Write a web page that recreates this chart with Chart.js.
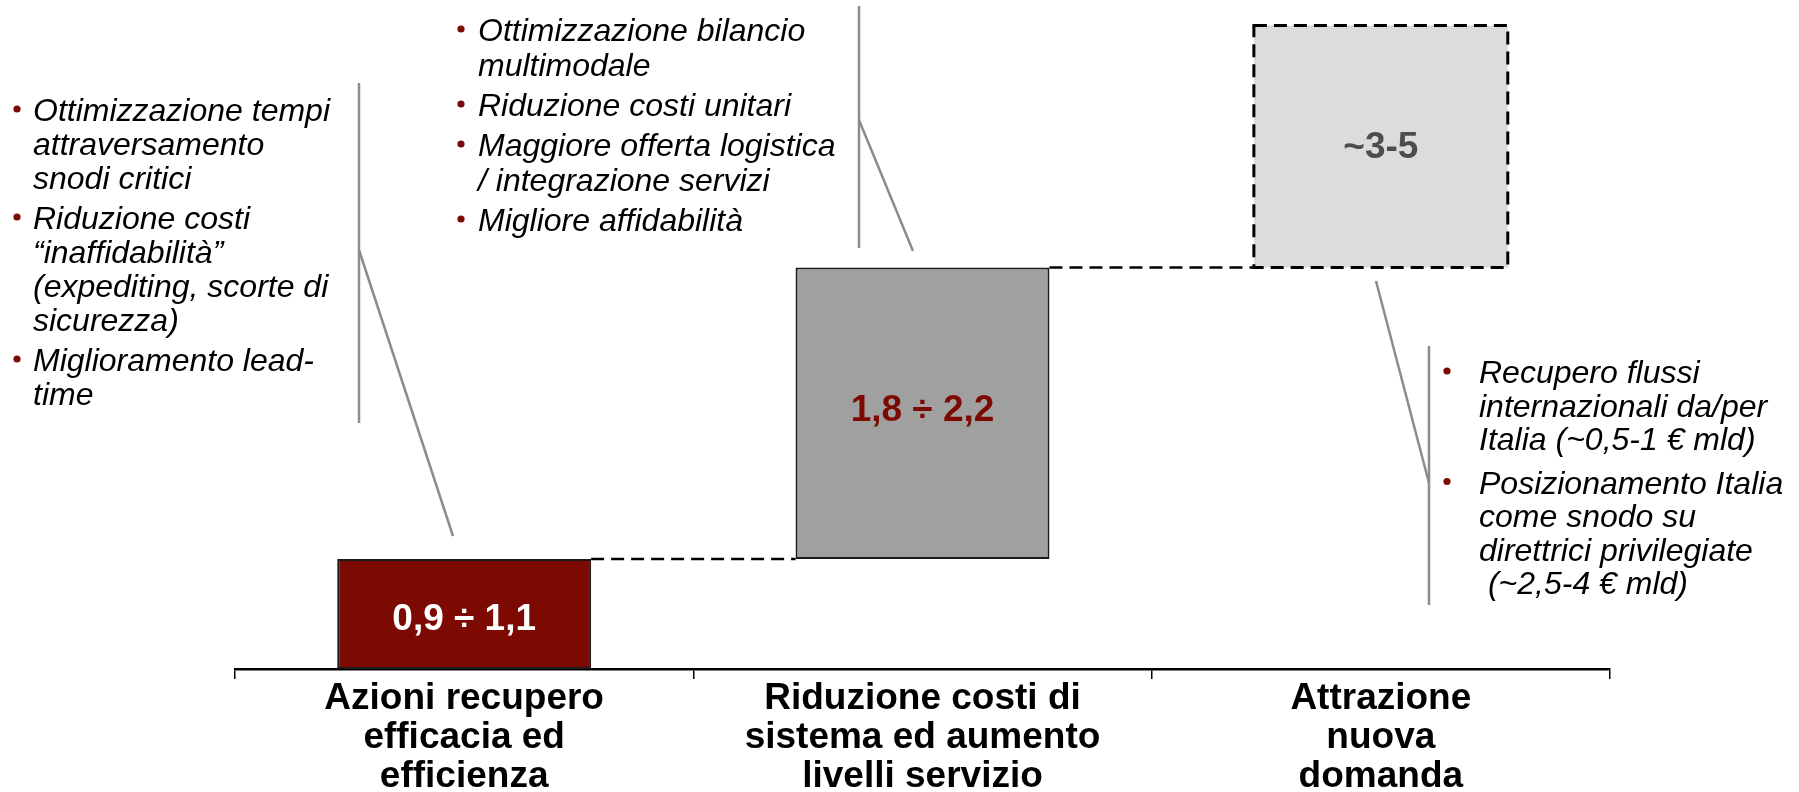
<!DOCTYPE html>
<html>
<head>
<meta charset="utf-8">
<title>Waterfall benefici</title>
<script src="https://cdn.jsdelivr.net/npm/chart.js@4.4.1/dist/chart.umd.min.js"></script>
<style>
  html, body { margin: 0; padding: 0; background: #fff; }
  #wrap { width: 1799px; height: 792px; position: relative; }
</style>
</head>
<body>
<div id="wrap"><canvas id="chart"></canvas></div>
<script>
// categories (multi-line tick labels)
const categories = [
  ['Azioni recupero', 'efficacia ed', 'efficienza'],
  ['Riduzione costi di', 'sistema ed aumento', 'livelli servizio'],
  ['Attrazione', 'nuova', 'domanda']
];
// floating bar ranges, in the picture's own (schematic) units
const rangeStart = [0, 1.0, 3.65];
const rangeEnd = [1.0, 3.65, 5.85];
const rangeLabels = ['0,9 ÷ 1,1', '1,8 ÷ 2,2', '~3-5'];

const RED = '#7d0a02';
const barColors = [RED, '#a0a0a0', '#dcdcdc'];
const labelColors = ['#ffffff', RED, '#4d4d4d'];

// bullet notes
const notesLeft = [
  ['Ottimizzazione tempi', 'attraversamento', 'snodi critici'],
  ['Riduzione costi', '\u201Cinaffidabilit\u00E0\u201D', '(expediting, scorte di', 'sicurezza)'],
  ['Miglioramento lead-', 'time']
];
const notesMiddle = [
  ['Ottimizzazione bilancio', 'multimodale'],
  ['Riduzione costi unitari'],
  ['Maggiore offerta logistica', '/ integrazione servizi'],
  ['Migliore affidabilit\u00E0']
];
const notesRight = [
  ['Recupero flussi', 'internazionali da/per', 'Italia (~0,5-1 \u20AC mld)'],
  ['Posizionamento Italia', 'come snodo su', 'direttrici privilegiate', ' (~2,5-4 \u20AC mld)']
];

const FONT = '"Liberation Sans", Arial, Helvetica, sans-serif';
Chart.defaults.font.family = FONT;

function drawNotes(ctx, items, bx, tx, y, lh, gap) {
  ctx.font = 'italic 32px ' + FONT;
  ctx.textAlign = 'left';
  ctx.textBaseline = 'alphabetic';
  items.forEach(lines => {
    ctx.fillStyle = RED;
    ctx.beginPath();
    ctx.arc(bx, y - 12, 3.6, 0, Math.PI * 2);
    ctx.fill();
    ctx.fillStyle = '#000';
    lines.forEach(t => {
      ctx.fillText(t, tx, y);
      y += lh;
    });
    y += gap;
  });
}

function line(ctx, x1, y1, x2, y2) {
  ctx.beginPath();
  ctx.moveTo(x1, y1);
  ctx.lineTo(x2, y2);
  ctx.stroke();
}

const decorations = {
  id: 'decorations',
  afterDatasetsDraw(chart) {
    const ctx = chart.ctx;
    const bars = chart.getDatasetMeta(0).data.map(b => b.getProps(['x', 'y', 'base', 'width'], true));
    ctx.save();

    // dashed connectors between bars
    ctx.strokeStyle = '#000';
    ctx.lineWidth = 2.5;
    ctx.setLineDash([13, 7]);
    for (let i = 0; i < bars.length - 1; i++) {
      const a = bars[i], b = bars[i + 1];
      line(ctx, a.x + a.width / 2, a.y, b.x - b.width / 2, a.y);
    }

    // dashed outline of the last (estimated) bar
    const last = bars[bars.length - 1];
    ctx.lineWidth = 3;
    ctx.strokeRect(last.x - last.width / 2, last.y, last.width, last.base - last.y);
    ctx.setLineDash([]);

    // value labels
    ctx.font = 'bold 37px ' + FONT;
    ctx.textAlign = 'center';
    ctx.textBaseline = 'middle';
    const shift = [6, -2, 1];
    bars.forEach((b, i) => {
      ctx.fillStyle = labelColors[i];
      ctx.fillText(rangeLabels[i], b.x, (b.y + b.base) / 2 + shift[i]);
    });

    // callout lines
    ctx.strokeStyle = '#8c8c8c';
    ctx.lineWidth = 2.5;
    line(ctx, 359, 83, 359, 423);
    line(ctx, 359, 250, 453, 536);
    line(ctx, 859, 6, 859, 248);
    line(ctx, 859, 120, 913, 251);
    line(ctx, 1429, 346, 1429, 605);
    line(ctx, 1376, 281, 1429, 483);

    // bullet notes
    drawNotes(ctx, notesLeft, 17, 33, 121, 34, 6);
    drawNotes(ctx, notesMiddle, 461, 478, 41, 35, 5);
    drawNotes(ctx, notesRight, 1447, 1479, 383, 33.5, 10);

    ctx.restore();
  }
};

new Chart(document.getElementById('chart'), {
  type: 'bar',
  data: {
    labels: categories,
    datasets: [{
      data: rangeStart.map((s, i) => [s, rangeEnd[i]]),
      backgroundColor: barColors,
      borderColor: ['#1a1a1a', '#1a1a1a', 'rgba(0,0,0,0)'],
      borderWidth: [2, 2, 0],
      borderSkipped: false,
      categoryPercentage: 1,
      barPercentage: 0.554
    }]
  },
  options: {
    responsive: true,
    maintainAspectRatio: false,
    animation: false,
    layout: { padding: { left: 235, right: 189, top: 9, bottom: 0 } },
    plugins: {
      legend: { display: false },
      tooltip: { enabled: false },
      title: { display: false }
    },
    scales: {
      x: {
        afterFit(scale) { scale.height = 123; },
        border: { display: true, color: '#000', width: 2.5 },
        grid: {
          display: true,
          offset: true,
          drawOnChartArea: false,
          drawTicks: true,
          tickLength: 10,
          color: '#000',
          lineWidth: 1.5
        },
        ticks: {
          color: '#000',
          padding: 0,
          maxRotation: 0,
          autoSkip: false,
          font: { size: 37, weight: 'bold', lineHeight: 1.06 }
        }
      },
      y: {
        display: false,
        min: 0,
        max: 6
      }
    }
  },
  plugins: [decorations]
});
</script>
</body>
</html>
